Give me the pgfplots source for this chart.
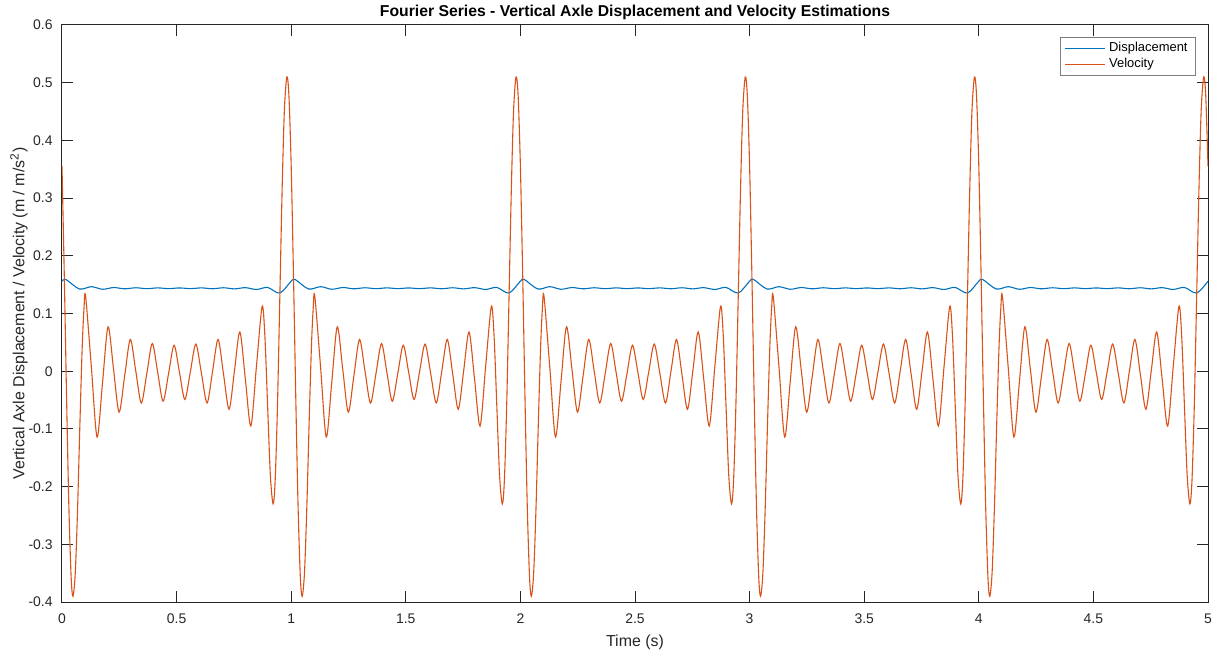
\documentclass[border=0pt]{standalone}
\usepackage{fontspec}
\setmainfont{Liberation Sans}
\usepackage{pgfplots}
\pgfplotsset{compat=1.18}

\definecolor{mblue}{rgb}{0,0.447,0.741}
\definecolor{morange}{rgb}{0.85,0.325,0.098}
\definecolor{maxis}{rgb}{0.15,0.15,0.15}

\begin{document}
\begin{tikzpicture}
\begin{axis}[name=ax,
    scale only axis,
    width=573bp, height=288.5bp,
    xmin=0, xmax=5, ymin=-0.4, ymax=0.6,
    xtick={0,0.5,1,1.5,2,2.5,3,3.5,4,4.5,5},
    ytick={-0.4,-0.3,-0.2,-0.1,0,0.1,0.2,0.3,0.4,0.5,0.6},
    tick align=inside, tick pos=both,
    major tick length=5.7bp,
    axis line style={maxis, line width=0.5bp},
    tick style={maxis, line width=0.5bp},
    tick label style={font=\fontsize{7}{8}\selectfont, text=maxis},
    xticklabel style={yshift=-2.5bp},
    yticklabel style={xshift=-1.2bp},
    /pgf/number format/assume math mode=true,
    every axis title shift=0pt,
    title={\bfseries Fourier Series - Vertical Axle Displacement and Velocity Estimations},
    title style={font=\fontsize{7.9}{8.5}\selectfont, at={(axis description cs:0.5,1.0225)}, anchor=center},
    xlabel={Time (s)},
    ylabel={Vertical Axle Displacement / Velocity (m / m/s\textsuperscript{2})},
    label style={font=\fontsize{8}{9}\selectfont, text=maxis},
    xlabel style={at={(axis description cs:0.5,-0.0693)}, anchor=center},
    ylabel style={at={(axis description cs:-0.0375,0.5)}, anchor=center},
    legend cell align=left,
    legend style={at={(0.9895,0.979)}, anchor=north east,
        draw=maxis!60, line width=0.4bp, fill=white,
        font=\fontsize{6.5}{7.4}\selectfont,
        inner xsep=2bp, inner ysep=0.5bp, row sep=-2.2bp},
    legend image code/.code={\draw[#1] (0bp,0bp) -- (20bp,0bp);},
]

% displacement
\addplot[mblue, line width=0.55bp, smooth] coordinates {
(0.000,0.156)(0.017,0.159)(0.0755,0.1425)(0.128,0.1465)(0.177,0.1420)(0.225,0.1450)(0.2735,0.1428)(0.322,0.1446)(0.370,0.1430)(0.4175,0.1444)(0.465,0.1431)
(0.5125,0.1443)(0.560,0.1431)(0.6085,0.1444)(0.657,0.1429)(0.705,0.1446)(0.7525,0.1427)(0.800,0.1448)(0.8485,0.1416)(0.897,0.1452)(0.9505,0.1355)
(1.000,0.156)(1.017,0.159)(1.0755,0.1425)(1.128,0.1465)(1.177,0.1420)(1.225,0.1450)(1.2735,0.1428)(1.322,0.1446)(1.370,0.1430)(1.4175,0.1444)(1.465,0.1431)
(1.5125,0.1443)(1.560,0.1431)(1.6085,0.1444)(1.657,0.1429)(1.705,0.1446)(1.7525,0.1427)(1.800,0.1448)(1.8485,0.1416)(1.897,0.1452)(1.9505,0.1355)
(2.000,0.156)(2.017,0.159)(2.0755,0.1425)(2.128,0.1465)(2.177,0.1420)(2.225,0.1450)(2.2735,0.1428)(2.322,0.1446)(2.370,0.1430)(2.4175,0.1444)(2.465,0.1431)
(2.5125,0.1443)(2.560,0.1431)(2.6085,0.1444)(2.657,0.1429)(2.705,0.1446)(2.7525,0.1427)(2.800,0.1448)(2.8485,0.1416)(2.897,0.1452)(2.9505,0.1355)
(3.000,0.156)(3.017,0.159)(3.0755,0.1425)(3.128,0.1465)(3.177,0.1420)(3.225,0.1450)(3.2735,0.1428)(3.322,0.1446)(3.370,0.1430)(3.4175,0.1444)(3.465,0.1431)
(3.5125,0.1443)(3.560,0.1431)(3.6085,0.1444)(3.657,0.1429)(3.705,0.1446)(3.7525,0.1427)(3.800,0.1448)(3.8485,0.1416)(3.897,0.1452)(3.9505,0.1355)
(4.000,0.156)(4.017,0.159)(4.0755,0.1425)(4.128,0.1465)(4.177,0.1420)(4.225,0.1450)(4.2735,0.1428)(4.322,0.1446)(4.370,0.1430)(4.4175,0.1444)(4.465,0.1431)
(4.5125,0.1443)(4.560,0.1431)(4.6085,0.1444)(4.657,0.1429)(4.705,0.1446)(4.7525,0.1427)(4.800,0.1448)(4.8485,0.1416)(4.897,0.1452)(4.9505,0.1355)
(5.000,0.156)
};
\addlegendentry{Displacement}

% velocity
\addplot[morange, line width=0.55bp, smooth] coordinates {
(0.000,0.355)(0.010,0.166)(0.020,-0.046)(0.030,-0.235)(0.040,-0.358)(0.048,-0.390)(0.058,-0.349)(0.068,-0.238)(0.078,-0.093)(0.088,0.040)(0.096,0.109)(0.103,0.130)
(0.128,0.008)(0.153,-0.114)(0.177,-0.019)(0.201,0.077)(0.225,0.003)(0.249,-0.071)(0.2735,-0.008)(0.298,0.055)(0.322,0.000)(0.346,-0.055)
(0.370,-0.004)(0.394,0.048)(0.4175,-0.002)(0.441,-0.052)(0.465,-0.004)(0.489,0.045)(0.5125,-0.002)(0.536,-0.049)(0.560,-0.001)(0.584,0.047)
(0.6085,-0.004)(0.633,-0.055)(0.657,0.000)(0.681,0.055)(0.705,-0.006)(0.729,-0.066)(0.7525,0.001)(0.776,0.068)(0.800,-0.014)(0.824,-0.095)
(0.8485,0.009)(0.873,0.112)(0.885,0.062)(0.897,-0.059)(0.909,-0.180)(0.921,-0.230)(0.930,-0.190)(0.940,-0.062)(0.950,0.121)(0.960,0.308)(0.970,0.450)(0.981,0.510)(0.990,0.478)
(1.000,0.355)(1.010,0.166)(1.020,-0.046)(1.030,-0.235)(1.040,-0.358)(1.048,-0.390)(1.058,-0.349)(1.068,-0.238)(1.078,-0.093)(1.088,0.040)(1.096,0.109)(1.103,0.130)
(1.128,0.008)(1.153,-0.114)(1.177,-0.019)(1.201,0.077)(1.225,0.003)(1.249,-0.071)(1.2735,-0.008)(1.298,0.055)(1.322,0.000)(1.346,-0.055)
(1.370,-0.004)(1.394,0.048)(1.4175,-0.002)(1.441,-0.052)(1.465,-0.004)(1.489,0.045)(1.5125,-0.002)(1.536,-0.049)(1.560,-0.001)(1.584,0.047)
(1.6085,-0.004)(1.633,-0.055)(1.657,0.000)(1.681,0.055)(1.705,-0.006)(1.729,-0.066)(1.7525,0.001)(1.776,0.068)(1.800,-0.014)(1.824,-0.095)
(1.8485,0.009)(1.873,0.112)(1.885,0.062)(1.897,-0.059)(1.909,-0.180)(1.921,-0.230)(1.930,-0.190)(1.940,-0.062)(1.950,0.121)(1.960,0.308)(1.970,0.450)(1.981,0.510)(1.990,0.478)
(2.000,0.355)(2.010,0.166)(2.020,-0.046)(2.030,-0.235)(2.040,-0.358)(2.048,-0.390)(2.058,-0.349)(2.068,-0.238)(2.078,-0.093)(2.088,0.040)(2.096,0.109)(2.103,0.130)
(2.128,0.008)(2.153,-0.114)(2.177,-0.019)(2.201,0.077)(2.225,0.003)(2.249,-0.071)(2.2735,-0.008)(2.298,0.055)(2.322,0.000)(2.346,-0.055)
(2.370,-0.004)(2.394,0.048)(2.4175,-0.002)(2.441,-0.052)(2.465,-0.004)(2.489,0.045)(2.5125,-0.002)(2.536,-0.049)(2.560,-0.001)(2.584,0.047)
(2.6085,-0.004)(2.633,-0.055)(2.657,0.000)(2.681,0.055)(2.705,-0.006)(2.729,-0.066)(2.7525,0.001)(2.776,0.068)(2.800,-0.014)(2.824,-0.095)
(2.8485,0.009)(2.873,0.112)(2.885,0.062)(2.897,-0.059)(2.909,-0.180)(2.921,-0.230)(2.930,-0.190)(2.940,-0.062)(2.950,0.121)(2.960,0.308)(2.970,0.450)(2.981,0.510)(2.990,0.478)
(3.000,0.355)(3.010,0.166)(3.020,-0.046)(3.030,-0.235)(3.040,-0.358)(3.048,-0.390)(3.058,-0.349)(3.068,-0.238)(3.078,-0.093)(3.088,0.040)(3.096,0.109)(3.103,0.130)
(3.128,0.008)(3.153,-0.114)(3.177,-0.019)(3.201,0.077)(3.225,0.003)(3.249,-0.071)(3.2735,-0.008)(3.298,0.055)(3.322,0.000)(3.346,-0.055)
(3.370,-0.004)(3.394,0.048)(3.4175,-0.002)(3.441,-0.052)(3.465,-0.004)(3.489,0.045)(3.5125,-0.002)(3.536,-0.049)(3.560,-0.001)(3.584,0.047)
(3.6085,-0.004)(3.633,-0.055)(3.657,0.000)(3.681,0.055)(3.705,-0.006)(3.729,-0.066)(3.7525,0.001)(3.776,0.068)(3.800,-0.014)(3.824,-0.095)
(3.8485,0.009)(3.873,0.112)(3.885,0.062)(3.897,-0.059)(3.909,-0.180)(3.921,-0.230)(3.930,-0.190)(3.940,-0.062)(3.950,0.121)(3.960,0.308)(3.970,0.450)(3.981,0.510)(3.990,0.478)
(4.000,0.355)(4.010,0.166)(4.020,-0.046)(4.030,-0.235)(4.040,-0.358)(4.048,-0.390)(4.058,-0.349)(4.068,-0.238)(4.078,-0.093)(4.088,0.040)(4.096,0.109)(4.103,0.130)
(4.128,0.008)(4.153,-0.114)(4.177,-0.019)(4.201,0.077)(4.225,0.003)(4.249,-0.071)(4.2735,-0.008)(4.298,0.055)(4.322,0.000)(4.346,-0.055)
(4.370,-0.004)(4.394,0.048)(4.4175,-0.002)(4.441,-0.052)(4.465,-0.004)(4.489,0.045)(4.5125,-0.002)(4.536,-0.049)(4.560,-0.001)(4.584,0.047)
(4.6085,-0.004)(4.633,-0.055)(4.657,0.000)(4.681,0.055)(4.705,-0.006)(4.729,-0.066)(4.7525,0.001)(4.776,0.068)(4.800,-0.014)(4.824,-0.095)
(4.8485,0.009)(4.873,0.112)(4.885,0.062)(4.897,-0.059)(4.909,-0.180)(4.921,-0.230)(4.930,-0.190)(4.940,-0.062)(4.950,0.121)(4.960,0.308)(4.970,0.450)(4.981,0.510)(4.990,0.478)
(5.000,0.355)
};
\addlegendentry{Velocity}
\end{axis}
\pgfresetboundingbox
\path[use as bounding box] ([shift={(-31bp,-27.5bp)}]ax.south west) rectangle ([shift={(7bp,12.5bp)}]ax.north east);
\end{tikzpicture}
\end{document}
